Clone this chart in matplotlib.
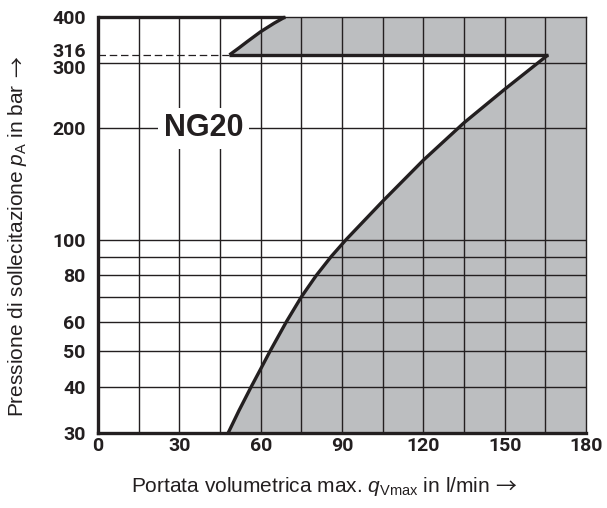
import matplotlib
matplotlib.use("Agg")
import matplotlib.pyplot as plt
from matplotlib.transforms import ScaledTranslation

# lower limit curve (flow l/min, pressure bar)
lower_q = [48, 52, 56.5, 60, 63.5, 69.5, 75, 80.5, 86, 91.5, 105,
           120, 135, 150, 166]
lower_p = [30, 34.5, 40, 44.7, 50, 60, 70, 80, 90, 100, 127,
           164, 207, 255, 316]

# upper limit curve between 316 and 400 bar
upper_q = [48.5, 52, 55, 60, 65, 69]
upper_p = [316, 330, 343, 365, 385, 400]

x_ticks = [0, 30, 60, 90, 120, 150, 180]
y_ticks = [30, 40, 50, 60, 80, 100, 200, 300, 316, 400]
x_grid = list(range(15, 180, 15))
y_grid = [40, 50, 60, 70, 80, 90, 100, 200, 300]

INK = "#231f20"
GREY = "#bcbec0"

plt.rcParams["mathtext.fontset"] = "custom"
plt.rcParams["mathtext.rm"] = "Liberation Sans"
plt.rcParams["mathtext.it"] = "Liberation Sans:italic"

fig = plt.figure(figsize=(6.07, 5.08), dpi=100)
ax = fig.add_axes([98 / 607, 1 - 433 / 508, 488 / 607, 416 / 508])
ax.set_yscale("log")
ax.set_xlim(0, 180)
ax.set_ylim(30, 400)

# shaded operating limit area
poly_q = lower_q + upper_q + [180, 180]
poly_p = lower_p + upper_p + [400, 30]
ax.fill(poly_q, poly_p, color=GREY, lw=0, zorder=1)

for xv in x_grid:
    ax.axvline(xv, color=INK, lw=1.0, zorder=2)
for yv in y_grid:
    ax.axhline(yv, color=INK, lw=1.0, zorder=2)
ax.plot([0, upper_q[0]], [316, 316], color=INK, lw=0.9, ls=(0, (6, 3)), zorder=2)

thick = dict(color=INK, lw=2.4, zorder=4, clip_on=False,
             solid_capstyle="butt", solid_joinstyle="round")
ax.plot(lower_q, lower_p, **thick)
ax.plot(upper_q, upper_p, **thick)
ax.plot([upper_q[0], lower_q[-1]], [316, 316], **thick)
ax.plot([0, upper_q[-1]], [400, 400], **thick)

ax.text(39, 200, "NG20", fontsize=22, fontweight="bold", family="Liberation Sans",
        color=INK, ha="center", va="center", zorder=3,
        bbox=dict(facecolor="white", edgecolor="none", pad=4))

for side in ["top", "right"]:
    ax.spines[side].set_linewidth(1.0)
    ax.spines[side].set_color(INK)
for side in ["left", "bottom"]:
    ax.spines[side].set_linewidth(2.4)
    ax.spines[side].set_color(INK)
    ax.spines[side].set_zorder(4)

ax.set_xticks(x_ticks)
ax.set_xticklabels([str(v) for v in x_ticks])
ax.set_yticks(y_ticks)
ax.set_yticklabels([str(v) for v in y_ticks])
ax.yaxis.set_minor_locator(matplotlib.ticker.NullLocator())
ax.tick_params(length=0, labelsize=14, colors=INK)
ax.tick_params(axis="y", pad=9)
ax.tick_params(axis="x", pad=3)
for lab in ax.get_xticklabels() + ax.get_yticklabels():
    lab.set_fontweight("bold")
    lab.set_family("Roboto")

# 316 and 300 sit close together, nudge them apart
shift = {"316": 5 / 100, "300": -4 / 100}
for lab in ax.get_yticklabels():
    if lab.get_text() in shift:
        lab.set_transform(lab.get_transform() +
                          ScaledTranslation(0, shift[lab.get_text()], fig.dpi_scale_trans))

lab_font = dict(fontsize=15, family="Liberation Sans", color=INK)
xl = fig.text(310 / 607, 1 - 492 / 508,
              r"Portata volumetrica max. $q_{\mathrm{Vmax}}$ in l/min",
              ha="center", va="baseline", **lab_font)
yl = fig.text(18 / 607, 1 - 250 / 508,
              r"Pressione di sollecitazione $p_{\mathrm{A}}$ in bar",
              ha="center", va="center", rotation=90, **lab_font)

# the arrows in Liberation Sans are tiny, take them from the CJK font
arrow_font = dict(fontsize=15, family="Noto Sans CJK JP", color=INK)
fig.canvas.draw()
xb = xl.get_window_extent()
fig.text((xb.x1 + 6) / 607, 1 - 487 / 508, "→", ha="left", va="center", **arrow_font)
yb = yl.get_window_extent()
fig.text(18 / 607, (yb.y1 + 6) / 508, "→", rotation=90,
         ha="center", va="bottom", **arrow_font)

fig.savefig("out.png", dpi=100)
plt.close(fig)
